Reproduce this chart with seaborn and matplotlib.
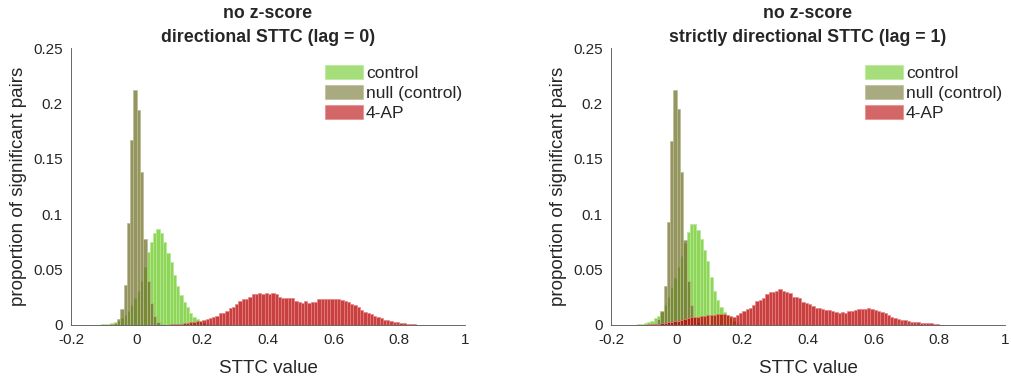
import numpy as np
import pandas as pd
import matplotlib
matplotlib.use("Agg")
import matplotlib.pyplot as plt
from matplotlib.patches import Patch
import seaborn as sns

# ---------------- data ----------------
bin_start = -0.2
bin_width = 0.01
n_bins = 120

x_ticks = [-0.2, 0, 0.2, 0.4, 0.6, 0.8, 1]
x_tick_labels = ["-0.2", "0", "0.2", "0.4", "0.6", "0.8", "1"]
y_ticks = [0, 0.05, 0.1, 0.15, 0.2, 0.25]
y_tick_labels = ["0", "0.05", "0.1", "0.15", "0.2", "0.25"]

series_names = ["control", "null (control)", "4-AP"]
titles = ["no z-score\ndirectional STTC (lag = 0)",
          "no z-score\nstrictly directional STTC (lag = 1)"]

control_lag0 = [
    0, 0, 0, 0, 0, 0, 0, 0, 0, 0.0005,
    0.001, 0.001, 0.002, 0.003, 0.004, 0.006, 0.009, 0.013, 0.018, 0.024,
    0.031, 0.040, 0.052, 0.066, 0.075, 0.083, 0.0866, 0.083, 0.075, 0.065,
    0.057, 0.045, 0.035, 0.027, 0.021, 0.016, 0.011, 0.007, 0.005, 0.003,
    0.002, 0.001, 0.0005, 0, 0, 0, 0, 0, 0, 0,
    0, 0, 0, 0, 0, 0, 0, 0, 0, 0,
    0, 0, 0, 0, 0, 0, 0, 0, 0, 0,
    0, 0, 0, 0, 0, 0, 0, 0, 0, 0,
    0, 0, 0, 0, 0, 0, 0, 0, 0, 0,
    0, 0, 0, 0, 0, 0, 0, 0, 0, 0,
    0, 0, 0, 0, 0, 0, 0, 0, 0, 0,
    0, 0, 0, 0, 0, 0, 0, 0, 0, 0,
]
null_lag0 = [
    0, 0, 0, 0, 0, 0, 0, 0, 0, 0,
    0, 0, 0.001, 0.002, 0.005, 0.014, 0.036, 0.092, 0.167, 0.212,
    0.194, 0.138, 0.078, 0.040, 0.020, 0.008, 0.003, 0.001, 0, 0,
    0, 0, 0, 0, 0, 0, 0, 0, 0, 0,
    0, 0, 0, 0, 0, 0, 0, 0, 0, 0,
    0, 0, 0, 0, 0, 0, 0, 0, 0, 0,
    0, 0, 0, 0, 0, 0, 0, 0, 0, 0,
    0, 0, 0, 0, 0, 0, 0, 0, 0, 0,
    0, 0, 0, 0, 0, 0, 0, 0, 0, 0,
    0, 0, 0, 0, 0, 0, 0, 0, 0, 0,
    0, 0, 0, 0, 0, 0, 0, 0, 0, 0,
    0, 0, 0, 0, 0, 0, 0, 0, 0, 0,
]
ap_lag0 = [
    0, 0, 0, 0, 0, 0, 0, 0, 0, 0,
    0, 0, 0, 0, 0, 0, 0, 0, 0, 0,
    0, 0, 0.0001, 0.0001, 0.0002, 0.0002, 0.0003, 0.0003, 0.0004, 0.0004,
    0.0005, 0.0008, 0.001, 0.0012, 0.0015, 0.002, 0.0025, 0.003, 0.0035, 0.004,
    0.0045, 0.005, 0.006, 0.007, 0.008, 0.0105, 0.011, 0.0125, 0.0156, 0.0165,
    0.019, 0.0217, 0.0235, 0.0235, 0.0256, 0.028, 0.0284, 0.029, 0.0284, 0.029,
    0.0284, 0.029, 0.0276, 0.025, 0.024, 0.024, 0.024, 0.024, 0.0217, 0.0205,
    0.020, 0.0217, 0.020, 0.021, 0.021, 0.0232, 0.0232, 0.0232, 0.0232, 0.0232,
    0.0238, 0.0232, 0.0226, 0.0214, 0.0205, 0.019, 0.018, 0.016, 0.0135, 0.012,
    0.011, 0.0099, 0.0081, 0.007, 0.006, 0.0045, 0.0042, 0.0036, 0.0027, 0.0024,
    0.002, 0.0015, 0.001, 0.0007, 0.0005, 0.0003, 0.0002, 0.0001, 0, 0,
    0, 0, 0, 0, 0, 0, 0, 0, 0, 0,
]

control_lag1 = [
    0, 0, 0, 0, 0, 0, 0, 0, 0.001, 0.001,
    0.002, 0.003, 0.004, 0.006, 0.008, 0.012, 0.018, 0.025, 0.033, 0.042,
    0.052, 0.062, 0.074, 0.084, 0.091, 0.091, 0.086, 0.078, 0.068, 0.058,
    0.043, 0.031, 0.023, 0.016, 0.012, 0.009, 0.006, 0.004, 0.002, 0.001,
    0, 0, 0, 0, 0, 0, 0, 0, 0, 0,
    0, 0, 0, 0, 0, 0, 0, 0, 0, 0,
    0, 0, 0, 0, 0, 0, 0, 0, 0, 0,
    0, 0, 0, 0, 0, 0, 0, 0, 0, 0,
    0, 0, 0, 0, 0, 0, 0, 0, 0, 0,
    0, 0, 0, 0, 0, 0, 0, 0, 0, 0,
    0, 0, 0, 0, 0, 0, 0, 0, 0, 0,
    0, 0, 0, 0, 0, 0, 0, 0, 0, 0,
]
null_lag1 = [
    0, 0, 0, 0, 0, 0, 0, 0, 0, 0,
    0, 0, 0.001, 0.002, 0.005, 0.013, 0.0355, 0.093, 0.166, 0.212,
    0.195, 0.138, 0.077, 0.040, 0.018, 0.007, 0.003, 0.001, 0, 0,
    0, 0, 0, 0, 0, 0, 0, 0, 0, 0,
    0, 0, 0, 0, 0, 0, 0, 0, 0, 0,
    0, 0, 0, 0, 0, 0, 0, 0, 0, 0,
    0, 0, 0, 0, 0, 0, 0, 0, 0, 0,
    0, 0, 0, 0, 0, 0, 0, 0, 0, 0,
    0, 0, 0, 0, 0, 0, 0, 0, 0, 0,
    0, 0, 0, 0, 0, 0, 0, 0, 0, 0,
    0, 0, 0, 0, 0, 0, 0, 0, 0, 0,
    0, 0, 0, 0, 0, 0, 0, 0, 0, 0,
]
ap_lag1 = [
    0, 0, 0, 0, 0, 0, 0, 0, 0, 0.0002,
    0.0003, 0.0005, 0.0008, 0.001, 0.0013, 0.0017, 0.002, 0.0025, 0.003, 0.0035,
    0.004, 0.0045, 0.005, 0.006, 0.007, 0.007, 0.0075, 0.008, 0.008, 0.0087,
    0.0087, 0.009, 0.0096, 0.0096, 0.0096, 0.0087, 0.008, 0.0075, 0.0087, 0.011,
    0.0125, 0.0147, 0.0156, 0.0183, 0.0213, 0.023, 0.0246, 0.0276, 0.0297, 0.030,
    0.031, 0.0325, 0.031, 0.0298, 0.0286, 0.0256, 0.0256, 0.024, 0.021, 0.0196,
    0.0186, 0.017, 0.015, 0.0156, 0.0141, 0.0135, 0.0135, 0.0126, 0.012, 0.011,
    0.012, 0.011, 0.0126, 0.0126, 0.0135, 0.0141, 0.0144, 0.0144, 0.015, 0.0144,
    0.0135, 0.0126, 0.0114, 0.0105, 0.009, 0.0075, 0.006, 0.005, 0.0045, 0.0045,
    0.004, 0.003, 0.0027, 0.0024, 0.002, 0.002, 0.0018, 0.0015, 0.0009, 0.0005,
    0.0003, 0.0002, 0, 0, 0, 0, 0, 0, 0, 0,
    0, 0, 0, 0, 0, 0, 0, 0, 0, 0,
]

panels = [
    [control_lag0, null_lag0, ap_lag0],
    [control_lag1, null_lag1, ap_lag1],
]

# ---------------- style ----------------
face_colors = ["#6ac823", "#70722c", "#b60000"]
edge_colors = ["#b4ea94", "#bcbc94", "#e88484"]
text_color = "#262626"

sns.set_theme(style="white")
plt.rcParams["font.family"] = ["Liberation Sans", "DejaVu Sans"]
plt.rcParams["axes.edgecolor"] = text_color
plt.rcParams["text.color"] = text_color
plt.rcParams["xtick.color"] = text_color
plt.rcParams["ytick.color"] = text_color

fig = plt.figure(figsize=(10.11, 3.80), dpi=100)
axes = [fig.add_axes([71 / 1011, 55 / 380, 394 / 1011, 277 / 380]),
        fig.add_axes([611 / 1011, 55 / 380, 394 / 1011, 277 / 380])]

edges = [round(bin_start + bin_width * k, 4) for k in range(n_bins + 1)]
centers = [round(bin_start + bin_width * (k + 0.5), 4) for k in range(n_bins)]

for ax, series, title in zip(axes, panels, titles):
    for vals, name, fc, ec in zip(series, series_names, face_colors, edge_colors):
        df = pd.DataFrame({"value": centers, "weight": vals})
        sns.histplot(data=df, x="value", weights="weight", bins=edges,
                     stat="count", element="bars", color=fc, alpha=0.75,
                     edgecolor=ec, linewidth=0.5, ax=ax)
    ax.set_xlim(-0.2, 1.0)
    ax.set_ylim(0, 0.25)
    ax.set_xticks(x_ticks)
    ax.set_xticklabels(x_tick_labels)
    ax.set_yticks(y_ticks)
    ax.set_yticklabels(y_tick_labels)
    ax.tick_params(direction="in", length=3, width=0.6, labelsize=11, pad=6)
    for s in ["top", "right"]:
        ax.spines[s].set_visible(False)
    for s in ["left", "bottom"]:
        ax.spines[s].set_linewidth(0.6)
        ax.spines[s].set_color("#4d4d4d")
    ax.set_xlabel("STTC value", fontsize=13.5, labelpad=9)
    ax.set_ylabel("proportion of significant pairs", fontsize=13.5, labelpad=4)
    ax.set_title(title, fontsize=12.8, fontweight="bold", pad=4, linespacing=1.6)
    handles = [Patch(facecolor=fc, edgecolor=ec, alpha=0.6, linewidth=0.8)
               for fc, ec in zip(face_colors, edge_colors)]
    ax.legend(handles, series_names, loc="upper left",
              bbox_to_anchor=(0.627, 0.962), frameon=False, fontsize=12.5,
              handlelength=2.2, handleheight=0.85, handletextpad=0.15,
              labelspacing=0.22, borderaxespad=0)

fig.savefig("out.png", dpi=100)
